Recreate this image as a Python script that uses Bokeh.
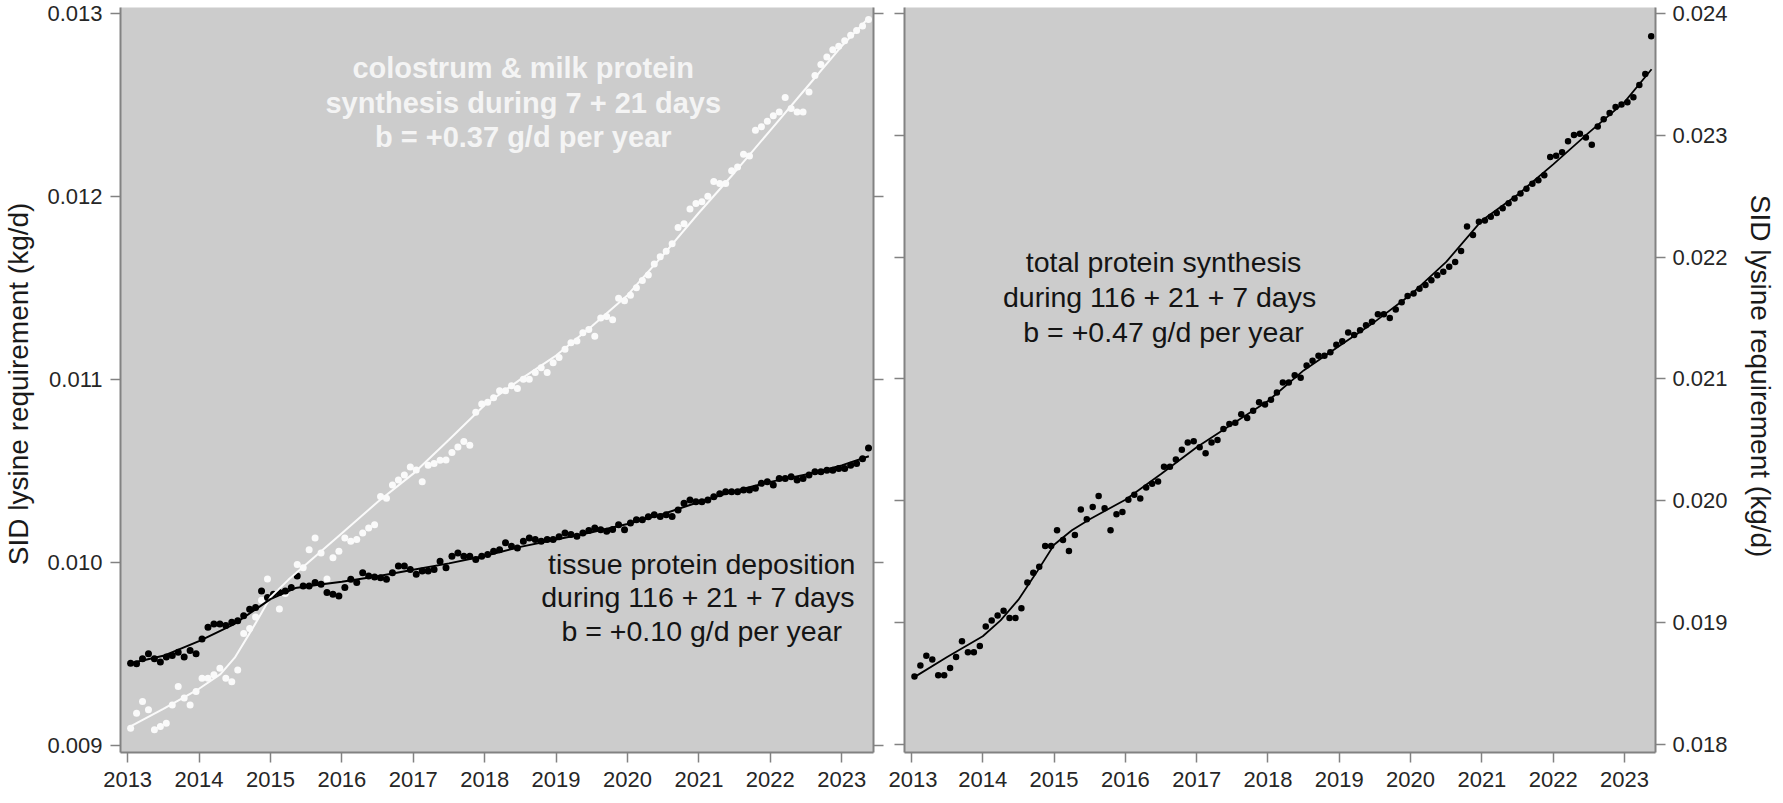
from bokeh.plotting import figure
from bokeh.models import (Range1d, LinearAxis, FixedTicker, PrintfTickFormatter,
                          CustomJSTickFormatter, Label, ColumnDataSource)
from bokeh.layouts import row
from bokeh.embed import file_html
from bokeh.resources import INLINE

# ---------------- data ----------------
# monthly observations, Jan 2013 .. May 2023 (mid-month)
months = [2013 + (m + 0.5) / 12 for m in range(125)]

tissue = [
    0.009450, 0.009447, 0.009474, 0.009501, 0.009474, 0.009456, 0.009483, 0.009492, 0.009510, 0.009483, 0.009519, 0.009501,
    0.009582, 0.009646, 0.009664, 0.009664, 0.009655, 0.009673, 0.009682, 0.009709, 0.009745, 0.009754, 0.009844, 0.009808,
    0.009827, 0.009836, 0.009844, 0.009863, 0.009926, 0.009872, 0.009872, 0.009890, 0.009881, 0.009836, 0.009827, 0.009817,
    0.009863, 0.009908, 0.009890, 0.009944, 0.009926, 0.009920, 0.009917, 0.009908, 0.009944, 0.009980, 0.009980, 0.009962,
    0.009935, 0.009953, 0.009953, 0.009962, 0.010007, 0.009971, 0.010034, 0.010052, 0.010034, 0.010034, 0.010016, 0.010034,
    0.010043, 0.010061, 0.010070, 0.010107, 0.010088, 0.010079, 0.010116, 0.010134, 0.010125, 0.010116, 0.010125, 0.010125,
    0.010140, 0.010161, 0.010152, 0.010143, 0.010161, 0.010175, 0.010188, 0.010179, 0.010170, 0.010180, 0.010206, 0.010179,
    0.010215, 0.010233, 0.010233, 0.010250, 0.010260, 0.010251, 0.010260, 0.010251, 0.010287, 0.010324, 0.010341, 0.010332,
    0.010332, 0.010341, 0.010359, 0.010375, 0.010386, 0.010386, 0.010386, 0.010396, 0.010396, 0.010405, 0.010432, 0.010441,
    0.010423, 0.010459, 0.010459, 0.010468, 0.010450, 0.010459, 0.010477, 0.010495, 0.010495, 0.010504, 0.010504, 0.010513,
    0.010513, 0.010531, 0.010540, 0.010567, 0.010625,
]

milk = [
    0.009095, 0.009176, 0.009241, 0.009196, 0.009086, 0.009104, 0.009122, 0.009222, 0.009322, 0.009259, 0.009222, 0.009295,
    0.009367, 0.009367, 0.009386, 0.009422, 0.009367, 0.009349, 0.009413, 0.009612, 0.009639, 0.009702, 0.009793, 0.009910,
    0.009827, 0.009746, 0.009830, 0.009863, 0.009989, 0.009971, 0.010070, 0.010134, 0.010052, 0.009910, 0.010025, 0.010061,
    0.010134, 0.010116, 0.010125, 0.010161, 0.010188, 0.010206, 0.010360, 0.010351, 0.010423, 0.010450, 0.010477, 0.010522,
    0.010505, 0.010441, 0.010531, 0.010540, 0.010558, 0.010560, 0.010600, 0.010630, 0.010660, 0.010640, 0.010820, 0.010865,
    0.010875, 0.010900, 0.010938, 0.010938, 0.010965, 0.010950, 0.011001, 0.011001, 0.011037, 0.011064, 0.011037, 0.011091,
    0.011120, 0.011164, 0.011200, 0.011209, 0.011254, 0.011272, 0.011235, 0.011335, 0.011344, 0.011326, 0.011443, 0.011430,
    0.011460, 0.011500, 0.011540, 0.011570, 0.011630, 0.011670, 0.011700, 0.011740, 0.011830, 0.011850, 0.011930, 0.011960,
    0.011970, 0.012000, 0.012080, 0.012070, 0.012070, 0.012140, 0.012160, 0.012230, 0.012220, 0.012360, 0.012380, 0.012410,
    0.012440, 0.012460, 0.012540, 0.012480, 0.012460, 0.012460, 0.012570, 0.012660, 0.012720, 0.012760, 0.012800, 0.012820,
    0.012850, 0.012880, 0.012905, 0.012930, 0.012965,
]

total = [
    0.01856, 0.01865, 0.01873, 0.01870, 0.01857, 0.01857, 0.01863, 0.01872, 0.01885, 0.01876, 0.01876, 0.01881,
    0.01897, 0.01902, 0.01906, 0.01910, 0.01904, 0.01904, 0.01912, 0.01933, 0.01941, 0.01946, 0.01963, 0.01963,
    0.01976, 0.01968, 0.01959, 0.01972, 0.01993, 0.01985, 0.01995, 0.02004, 0.01994, 0.01976, 0.01989, 0.01991,
    0.02001, 0.02005, 0.02002, 0.02011, 0.02014, 0.02016, 0.02028, 0.02028, 0.02034, 0.02042, 0.02048, 0.02049,
    0.02044, 0.02039, 0.02048, 0.02050, 0.02059, 0.02063, 0.02064, 0.02071, 0.02068, 0.02074, 0.02081, 0.02079,
    0.02083, 0.02089, 0.02097, 0.02097, 0.02103, 0.02101, 0.02111, 0.02115, 0.02119, 0.02119, 0.02122, 0.02128,
    0.02131, 0.02138, 0.02136, 0.02140, 0.02144, 0.02147, 0.02153, 0.02153, 0.02150, 0.02157, 0.02163, 0.02168,
    0.02170, 0.02174, 0.02177, 0.02181, 0.02185, 0.02188, 0.02192, 0.02196, 0.02205, 0.02225, 0.02218, 0.02229,
    0.02230, 0.02233, 0.02236, 0.02240, 0.02244, 0.02248, 0.02252, 0.02256, 0.02260, 0.02263, 0.02267, 0.02282,
    0.02283, 0.02286, 0.02295, 0.02300, 0.02301, 0.02298, 0.02292, 0.02307, 0.02313, 0.02318, 0.02323, 0.02325,
    0.02327, 0.02331, 0.02341, 0.02350, 0.02381,
]

# fitted trend curves (read at knots)
tissue_fit_x = [2013.04, 2013.5, 2014.0, 2014.5, 2015.0, 2015.35, 2015.7, 2016.0, 2016.5, 2017.0, 2017.5, 2018.0,
                2018.5, 2019.0, 2019.5, 2020.0, 2020.5, 2021.0, 2021.5, 2022.0, 2022.5, 2023.0, 2023.38]
tissue_fit_y = [0.009450, 0.009490, 0.009570, 0.009665, 0.009800, 0.009860, 0.009880, 0.009895, 0.009925, 0.009960,
                0.009995, 0.010035, 0.010085, 0.010125, 0.010165, 0.010210, 0.010265, 0.010330, 0.010390, 0.010440,
                0.010480, 0.010530, 0.010580]

milk_fit_x = [2013.04, 2013.5, 2014.0, 2014.3, 2014.5, 2014.75, 2015.0, 2015.25, 2015.5, 2016.0, 2016.5, 2017.0,
              2017.5, 2018.0, 2018.5, 2019.0, 2019.5, 2020.0, 2020.5, 2021.0, 2021.5, 2022.0, 2022.5, 2023.0, 2023.38]
milk_fit_y = [0.009105, 0.009200, 0.009310, 0.009390, 0.009480, 0.009640, 0.009810, 0.009905, 0.009990, 0.010160,
              0.010330, 0.010485, 0.010670, 0.010860, 0.011000, 0.011130, 0.011290, 0.011460, 0.011680, 0.011910,
              0.012130, 0.012360, 0.012590, 0.012820, 0.012975]

total_fit_x = [2013.04, 2013.5, 2014.0, 2014.25, 2014.5, 2014.75, 2015.0, 2015.25, 2015.5, 2016.0, 2016.5, 2017.0,
               2017.5, 2018.0, 2018.5, 2019.0, 2019.5, 2020.0, 2020.5, 2021.0, 2021.5, 2022.0, 2022.5, 2023.0, 2023.38]
total_fit_y = [0.018555, 0.018720, 0.018890, 0.019020, 0.019190, 0.019410, 0.019640, 0.019760, 0.019850, 0.020010,
               0.020220, 0.020440, 0.020630, 0.020820, 0.021070, 0.021270, 0.021470, 0.021690, 0.021960, 0.022300,
               0.022510, 0.022760, 0.023020, 0.023270, 0.023540]

year_ticks = [2013, 2014, 2015, 2016, 2017, 2018, 2019, 2020, 2021, 2022, 2023]
left_ticks = [0.009, 0.010, 0.011, 0.012, 0.013]
right_ticks = [0.018, 0.019, 0.020, 0.021, 0.022, 0.023, 0.024]
y_title = "SID lysine requirement  (kg/d)"

# ---------------- style ----------------
FONT = "Liberation Sans"
BG = "#cccccc"
AXC = "#828282"
FRAME_H = 745


def style_axis(ax, ticks, fmt, show_labels=True):
    ax.ticker = FixedTicker(ticks=ticks)
    ax.axis_line_color = AXC
    ax.axis_line_width = 2
    ax.major_tick_line_color = AXC
    ax.major_tick_line_width = 1.5
    ax.major_tick_out = 10
    ax.major_tick_in = 0
    ax.minor_tick_line_color = None
    ax.major_label_text_font = FONT
    ax.major_label_text_color = "#262626"
    ax.axis_label_text_font = FONT
    ax.axis_label_text_font_size = "28px"
    ax.axis_label_text_font_style = "normal"
    ax.axis_label_text_color = "#1a1a1a"
    if show_labels:
        ax.formatter = PrintfTickFormatter(format=fmt)
        ax.major_label_text_font_size = "22px"
    else:
        ax.formatter = CustomJSTickFormatter(code="return ''")
        ax.major_label_text_font_size = "1px"


def base_fig(xr, yr, fw, mbl, mbr, yloc):
    p = figure(frame_width=fw, frame_height=FRAME_H, x_range=xr, y_range=yr,
               output_backend="svg", toolbar_location=None,
               min_border_left=mbl, min_border_right=mbr,
               min_border_top=7, min_border_bottom=43,
               background_fill_color=BG, border_fill_color="white",
               outline_line_color=None, y_axis_location=yloc)
    p.xgrid.visible = False
    p.ygrid.visible = False
    return p


# ---------------- left panel ----------------
p1 = base_fig(Range1d(2012.9, 2023.445), Range1d(0.008962, 0.013031), 753, 115, 15, "left")
style_axis(p1.xaxis[0], year_ticks, "%d")
p1.xaxis[0].major_label_standoff = 9
style_axis(p1.yaxis[0], left_ticks, "%.3f")
p1.yaxis[0].major_label_standoff = 8
p1.yaxis[0].axis_label = y_title
p1.yaxis[0].axis_label_standoff = 10
r1 = LinearAxis()
style_axis(r1, left_ticks, "%.3f", show_labels=False)
p1.add_layout(r1, "right")

src1 = ColumnDataSource(dict(x=months, tissue=tissue, milk=milk))
p1.scatter("x", "milk", source=src1, size=7, fill_color="#fafafa", line_color=None)
p1.scatter("x", "tissue", source=src1, size=7, fill_color="black", line_color=None)
p1.line(milk_fit_x, milk_fit_y, line_color="#fafafa", line_width=2)
p1.line(tissue_fit_x, tissue_fit_y, line_color="black", line_width=2)

white_lines = ["colostrum & milk protein", "synthesis during 7 + 21 days", "b = +0.37 g/d per year"]
for txt, yv in zip(white_lines, [0.012698, 0.012512, 0.012326]):
    p1.add_layout(Label(x=2018.54, y=yv, text=txt, text_font=FONT, text_font_size="29px",
                        text_font_style="bold", text_color="#f4f4f4",
                        text_align="center", text_baseline="middle"))

black_lines = ["tissue protein deposition", "during  116 + 21 + 7 days", "b = +0.10 g/d per year"]
for txt, yv in zip(black_lines, [0.009989, 0.009809, 0.009628]):
    p1.add_layout(Label(x=2021.04, y=yv, text=txt, text_font=FONT, text_font_size="28.5px",
                        text_color="#141414", text_align="center", text_baseline="middle"))

# ---------------- right panel ----------------
p2 = base_fig(Range1d(2012.902, 2023.435), Range1d(0.017937, 0.024046), 751, 16, 117, "right")
style_axis(p2.xaxis[0], year_ticks, "%d")
p2.xaxis[0].major_label_standoff = 9
style_axis(p2.yaxis[0], right_ticks, "%.3f")
p2.yaxis[0].major_label_standoff = 7
p2.yaxis[0].axis_label = y_title
p2.yaxis[0].axis_label_standoff = 14
l2 = LinearAxis()
style_axis(l2, right_ticks, "%.3f", show_labels=False)
p2.add_layout(l2, "left")

src2 = ColumnDataSource(dict(x=months, total=total))
p2.scatter("x", "total", source=src2, size=6.5, fill_color="black", line_color=None)
p2.line(total_fit_x, total_fit_y, line_color="black", line_width=1.8)

right_lines = ["total protein synthesis", "during  116 + 21 + 7 days", "b = +0.47 g/d per year"]
for txt, yv in zip(right_lines, [0.021963, 0.021676, 0.021389]):
    p2.add_layout(Label(x=2016.535, y=yv, text=txt, text_font=FONT, text_font_size="28.5px",
                        text_color="#141414", text_align="center", text_baseline="middle"))

layout = row(p1, p2)
open("out.html", "w").write(file_html(layout, INLINE))
